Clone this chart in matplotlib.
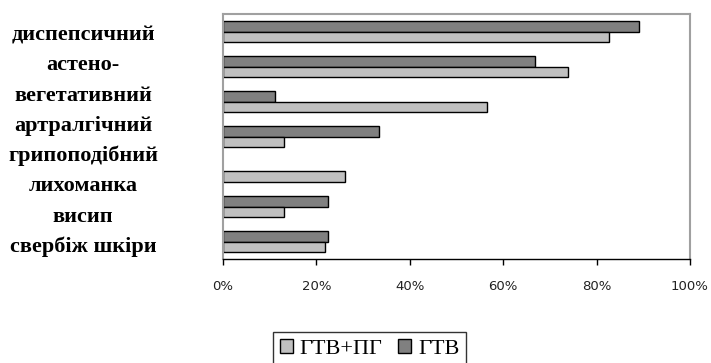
import numpy as np
import matplotlib.pyplot as plt

# синдроми та частота (%) у двох групах
syndromes = ['диспепсичний', 'астено-\nвегетативний', 'артралгічний',
             'грипоподібний', 'лихоманка', 'висип', 'свербіж шкіри']
gtv_pg = [82.6, 73.9, 56.6, 13.1, 26.2, 13.1, 21.8]   # ГТВ+ПГ
gtv = [89.0, 66.9, 11.1, 33.4, 0.0, 22.4, 22.4]       # ГТВ
xticks = [0, 20, 40, 60, 80, 100]

fig = plt.figure(figsize=(7.11, 3.63), dpi=100)
ax = fig.add_axes([223 / 711, 1 - 259 / 363, 467 / 711, 245 / 363])

y = np.arange(len(syndromes))
h = 0.29
dark = np.array(gtv)
keep = dark > 0
ax.barh(y[keep] - h / 2, dark[keep], height=h, color='#808080',
        edgecolor='black', linewidth=1.0, label='ГТВ')
ax.barh(y + h / 2, gtv_pg, height=h, color='#c0c0c0',
        edgecolor='black', linewidth=1.0, label='ГТВ+ПГ')

ax.set_xlim(0, 100)
ax.set_ylim(len(syndromes) - 0.5, -0.5)
ax.set_yticks([])
ax.set_xticks(xticks)
ax.set_xticklabels([f'{t}%' for t in xticks], fontsize=9.5,
                   family='DejaVu Sans', color='#222222')
ax.tick_params(axis='x', direction='out', length=4, width=1, pad=11,
               color='black')

for side in ['top', 'right', 'left']:
    ax.spines[side].set_color('#a0a0a0')
    ax.spines[side].set_linewidth(1.5)
ax.spines['bottom'].set_color('black')
ax.spines['bottom'].set_linewidth(1)

# підписи синдромів - окремим стовпчиком ліворуч
lines = [ln for s in syndromes for ln in s.split('\n')]
ys = np.linspace(35, 247, len(lines))
for ln, yy in zip(lines, ys):
    fig.text(83 / 711, 1 - yy / 363, ln, ha='center', va='center',
             fontsize=16, fontweight='bold', family='Liberation Serif')

handles, labels = ax.get_legend_handles_labels()
leg = fig.legend(handles[::-1], labels[::-1], loc='upper left',
                 bbox_to_anchor=(273 / 711, 1 - 332 / 363), ncol=2,
                 prop={'family': 'Liberation Serif', 'size': 16},
                 frameon=True, fancybox=False, edgecolor='black',
                 handlelength=0.6, handleheight=0.6, handletextpad=0.3,
                 columnspacing=0.7, borderpad=0.3, borderaxespad=0)
leg.get_frame().set_linewidth(1)

fig.savefig('out.png', dpi=100)
